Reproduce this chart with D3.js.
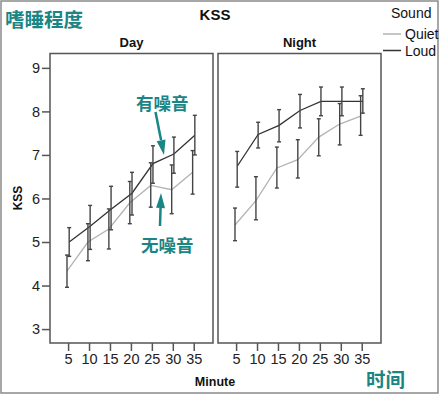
<!DOCTYPE html>
<html>
<head>
<meta charset="utf-8">
<script src="https://cdn.jsdelivr.net/npm/d3@7"></script>
<style>
  body { margin: 0; background: #fff; }
  svg text { font-family: "Liberation Sans", Arial, sans-serif; }
  .cn { font-family: "Noto Sans CJK SC", sans-serif; font-weight: bold; fill: #1a8585; }
</style>
</head>
<body>
<div id="chart"></div>
<script>
// KSS scores by minute, for the two sound conditions in each panel
var minutes = [5, 10, 15, 20, 25, 30, 35];
var seriesNames = ["Quiet", "Loud"];
var panelNames = ["Day", "Night"];
var yTicks = [3, 4, 5, 6, 7, 8, 9];

var dayQuiet     = [4.33, 5.0, 5.3, 5.9, 6.3, 6.2, 6.6];
var dayQuietLow  = [3.96, 4.57, 4.84, 5.42, 5.8, 5.65, 6.1];
var dayQuietHigh = [4.7, 5.42, 5.76, 6.39, 6.82, 6.77, 7.1];
var dayLoud      = [5.0, 5.36, 5.75, 6.12, 6.8, 7.02, 7.45];
var dayLoudLow   = [4.67, 4.83, 5.28, 5.62, 6.35, 6.58, 7.0];
var dayLoudHigh  = [5.33, 5.84, 6.28, 6.6, 7.21, 7.41, 7.91];

var nightQuiet     = [5.39, 5.95, 6.7, 6.89, 7.41, 7.71, 7.89];
var nightQuietLow  = [5.03, 5.51, 6.24, 6.47, 6.98, 7.23, 7.45];
var nightQuietHigh = [5.78, 6.5, 7.18, 7.35, 7.83, 8.18, 8.36];
var nightLoud      = [6.74, 7.47, 7.68, 8.02, 8.23, 8.23, 8.23];
var nightLoudLow   = [6.26, 7.16, 7.3, 7.62, 7.9, 7.9, 7.96];
var nightLoudHigh  = [7.08, 7.75, 8.04, 8.39, 8.56, 8.56, 8.52];

var width = 440, height = 395;
var svg = d3.select("#chart").append("svg")
    .attr("width", width)
    .attr("height", height);

// outer frame
svg.append("rect")
    .attr("x", 1).attr("y", 1)
    .attr("width", width - 3).attr("height", height - 3)
    .attr("fill", "#fff")
    .attr("stroke", "#8a8a8a")
    .attr("stroke-width", 1.5);

var plotTop = 53.5, plotBottom = 343;
var panelW = 163;
var panelX = [50, 218];

var y = d3.scaleLinear().domain([2.68, 9.33]).range([plotBottom, plotTop]);
var colors = { Quiet: "#b3b3b3", Loud: "#333" };
var dodge = { Quiet: -1.1, Loud: 1.1 };

var panels = [
    {
        name: panelNames[0],
        series: [
            { name: "Quiet", mean: dayQuiet, low: dayQuietLow, high: dayQuietHigh },
            { name: "Loud", mean: dayLoud, low: dayLoudLow, high: dayLoudHigh }
        ]
    },
    {
        name: panelNames[1],
        series: [
            { name: "Quiet", mean: nightQuiet, low: nightQuietLow, high: nightQuietHigh },
            { name: "Loud", mean: nightLoud, low: nightLoudLow, high: nightLoudHigh }
        ]
    }
];

panels.forEach(function(p, i) {
    var x0 = panelX[i];
    var x = d3.scaleLinear().domain([0.68, 39.6]).range([x0, x0 + panelW]);
    var g = svg.append("g");

    // panel title
    g.append("text")
        .attr("x", x0 + panelW / 2).attr("y", 46.5)
        .attr("text-anchor", "middle")
        .attr("font-size", 13).attr("font-weight", "bold")
        .attr("fill", "#111")
        .text(p.name);

    // x axis
    var xAxis = g.append("g")
        .attr("transform", "translate(0," + plotBottom + ")")
        .call(d3.axisBottom(x).tickValues(minutes).tickSize(8).tickPadding(3));
    xAxis.select(".domain").remove();
    xAxis.selectAll("line").attr("stroke", "#555").attr("stroke-width", 1.5);
    xAxis.selectAll("text").attr("font-size", 14.5).attr("fill", "#222")
        .attr("font-family", "Liberation Sans, Arial, sans-serif");

    // y axis only on the first panel
    if (i === 0) {
        var yAxis = g.append("g")
            .attr("transform", "translate(" + x0 + ",0)")
            .call(d3.axisLeft(y).tickValues(yTicks).tickFormat(d3.format("d"))
                .tickSize(8).tickPadding(2));
        yAxis.select(".domain").remove();
        yAxis.selectAll("line").attr("stroke", "#555").attr("stroke-width", 1.5);
        yAxis.selectAll("text").attr("font-size", 14.5).attr("fill", "#222")
            .attr("font-family", "Liberation Sans, Arial, sans-serif");
    }

    // lines
    p.series.forEach(function(s) {
        var line = d3.line()
            .x(function(d, k) { return x(minutes[k]) + dodge[s.name]; })
            .y(function(d) { return y(d); });
        g.append("path")
            .datum(s.mean)
            .attr("d", line)
            .attr("fill", "none")
            .attr("stroke", colors[s.name])
            .attr("stroke-width", 1.3);
    });

    // error bars
    p.series.forEach(function(s) {
        var bars = g.selectAll(".err-" + s.name)
            .data(minutes)
            .enter()
            .append("g")
            .attr("class", "err-" + s.name);
        bars.append("line")
            .attr("x1", function(d) { return x(d) + dodge[s.name]; })
            .attr("x2", function(d) { return x(d) + dodge[s.name]; })
            .attr("y1", function(d, k) { return y(s.low[k]); })
            .attr("y2", function(d, k) { return y(s.high[k]); })
            .attr("stroke", "#444").attr("stroke-width", 1.4);
        [s.low, s.high].forEach(function(vals) {
            bars.append("line")
                .attr("x1", function(d) { return x(d) + dodge[s.name] - 2; })
                .attr("x2", function(d) { return x(d) + dodge[s.name] + 2; })
                .attr("y1", function(d, k) { return y(vals[k]); })
                .attr("y2", function(d, k) { return y(vals[k]); })
                .attr("stroke", "#444").attr("stroke-width", 1.4);
        });
    });

    // panel border
    g.append("rect")
        .attr("x", x0).attr("y", plotTop)
        .attr("width", panelW).attr("height", plotBottom - plotTop)
        .attr("fill", "none")
        .attr("stroke", "#555")
        .attr("stroke-width", 1.5);
});

// titles
svg.append("text")
    .attr("x", 215).attr("y", 20)
    .attr("text-anchor", "middle")
    .attr("font-size", 15).attr("font-weight", "bold").attr("fill", "#111")
    .text("KSS");

svg.append("text")
    .attr("x", 215).attr("y", 386)
    .attr("text-anchor", "middle")
    .attr("font-size", 12.5).attr("font-weight", "bold").attr("fill", "#111")
    .text("Minute");

svg.append("text")
    .attr("transform", "translate(22,198) rotate(-90)")
    .attr("text-anchor", "middle")
    .attr("font-size", 12).attr("font-weight", "bold").attr("fill", "#111")
    .text("KSS");

// legend
svg.append("text")
    .attr("x", 391).attr("y", 18)
    .attr("font-size", 14).attr("fill", "#111")
    .text("Sound");

seriesNames.forEach(function(name, k) {
    var ly = 34 + k * 16.5;
    svg.append("line")
        .attr("x1", 383).attr("x2", 401)
        .attr("y1", ly).attr("y2", ly)
        .attr("stroke", colors[name]).attr("stroke-width", 1.5);
    svg.append("text")
        .attr("x", 405).attr("y", ly + 5)
        .attr("font-size", 14).attr("fill", "#111")
        .text(name);
});

// Chinese annotations
svg.append("text").attr("class", "cn")
    .attr("x", 5).attr("y", 27)
    .attr("font-size", 19.5)
    .text("嗜睡程度");

svg.append("text").attr("class", "cn")
    .attr("x", 136).attr("y", 110)
    .attr("font-size", 17.5)
    .text("有噪音");

svg.append("text").attr("class", "cn")
    .attr("x", 141).attr("y", 252)
    .attr("font-size", 17.5)
    .text("无噪音");

svg.append("text").attr("class", "cn")
    .attr("x", 366).attr("y", 387)
    .attr("font-size", 19.5)
    .text("时间");

// arrows
function arrow(x1, y1, x2, y2) {
    var dx = x2 - x1, dy = y2 - y1;
    var len = Math.sqrt(dx * dx + dy * dy);
    var ux = dx / len, uy = dy / len;
    var headL = 15, headW = 4.5;
    var bx = x2 - ux * headL, by = y2 - uy * headL;
    svg.append("line")
        .attr("x1", x1).attr("y1", y1)
        .attr("x2", bx).attr("y2", by)
        .attr("stroke", "#1a8585").attr("stroke-width", 2.5);
    svg.append("path")
        .attr("d", "M" + x2 + "," + y2 +
            "L" + (bx - uy * headW) + "," + (by + ux * headW) +
            "L" + (bx + uy * headW) + "," + (by - ux * headW) + "Z")
        .attr("fill", "#1a8585");
}
arrow(155.5, 112, 164, 155);
arrow(160, 226, 161, 193);
</script>
</body>
</html>
